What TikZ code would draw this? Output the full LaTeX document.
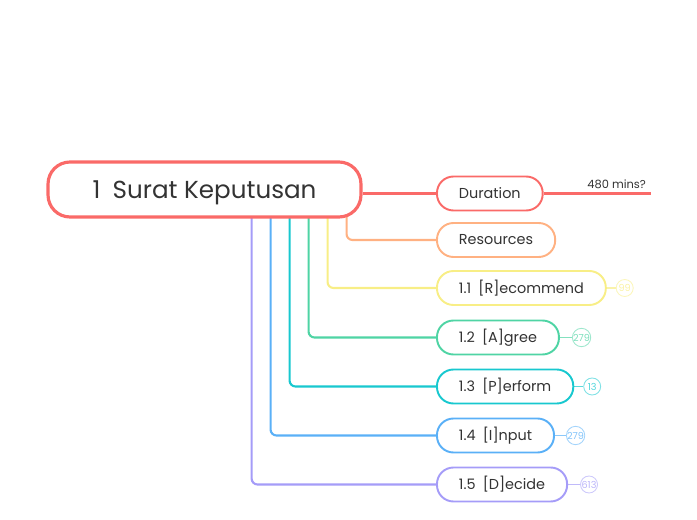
\documentclass[tikz,border=0pt]{standalone}
\usepackage{fontspec}
\setmainfont{Poppins}
\usetikzlibrary{positioning,backgrounds}
\definecolor{ink}{HTML}{333333}
\definecolor{cRed}{HTML}{FA6A68}
\definecolor{cOrange}{HTML}{FFB182}
\definecolor{cYellow}{HTML}{F8EE86}
\definecolor{cGreen}{HTML}{4FD4A4}
\definecolor{cCyan}{HTML}{18C8CF}
\definecolor{cBlue}{HTML}{5AB0F7}
\definecolor{cPurple}{HTML}{A59CF8}
\tikzset{
  rootbox/.style={draw=cRed, line width=1.8pt, fill=white, rounded corners=0.44cm,
    minimum width=6.26cm, minimum height=1.1cm, text=ink, text height=10pt, text depth=0pt,
    font=\fontsize{14}{16}\selectfont},
  topic/.style={draw=#1, line width=1.1pt, fill=white, rounded corners=0.33cm,
    minimum height=0.68cm, inner xsep=0.44cm, anchor=west, text=ink,
    font=\fontsize{8.2}{10}\selectfont},
  link/.style={draw=#1, line width=1.2pt, rounded corners=0.12cm},
  badge/.style={circle, draw=#1!55, line width=0.5pt, text=#1!75, inner sep=0pt,
    minimum size=0.34cm, font=\fontsize{5.5}{6}\selectfont},
}
\begin{document}
\begin{tikzpicture}[x=0.02cm, y=-0.02cm]
  \useasboundingbox (0,0) rectangle (697,520);
  % central topic
  \node[rootbox] (root) at (204.5,189.5) {1\enspace Surat Keputusan};
  % subtopics
  \node[topic=cRed] (dur) at (436,193.5) {Duration};
  \node[topic=cOrange] (res) at (436,240) {Resources};
  \node[topic=cYellow] (n1) at (436,288) {1.1\enspace [R]ecommend};
  \node[topic=cGreen] (n2) at (436,337.5) {1.2\enspace [A]gree};
  \node[topic=cCyan] (n3) at (436,386.5) {1.3\enspace [P]erform};
  \node[topic=cBlue] (n4) at (436,435.5) {1.4\enspace [I]nput};
  \node[topic=cPurple] (n5) at (436,484.5) {1.5\enspace [D]ecide};
  % counters
  \node[badge=cYellow, right=0.18cm of n1] (b1) {99};
  \node[badge=cGreen, right=0.24cm of n2] (b2) {279};
  \node[badge=cCyan, right=0.18cm of n3] (b3) {13};
  \node[badge=cBlue, right=0.22cm of n4] (b4) {279};
  \node[badge=cPurple, right=0.24cm of n5] (b5) {613};
  \coordinate (durEnd) at (651,193.5);
  \begin{scope}[on background layer]
    \draw[link=cRed] (root.east |- dur) -- (dur.west);
    \draw[link=cRed] (dur.east) -- (durEnd)
      node[pos=0.68, above, inner sep=2pt, text=ink, font=\fontsize{6.5}{7}\selectfont] {480 mins?};
    \foreach \n/\dx/\c in {res/-0.32/cOrange, n1/-0.70/cYellow, n2/-1.08/cGreen,
                           n3/-1.46/cCyan, n4/-1.84/cBlue, n5/-2.22/cPurple}
      \draw[link=\c] ([xshift=\dx cm, yshift=0.3cm]root.south east) |- (\n.west);
    \foreach \n/\b/\c in {n1/b1/cYellow, n2/b2/cGreen, n3/b3/cCyan, n4/b4/cBlue, n5/b5/cPurple}
      \draw[draw=\c!70, line width=0.8pt] (\n.east) -- (\b.west);
  \end{scope}
\end{tikzpicture}
\end{document}
